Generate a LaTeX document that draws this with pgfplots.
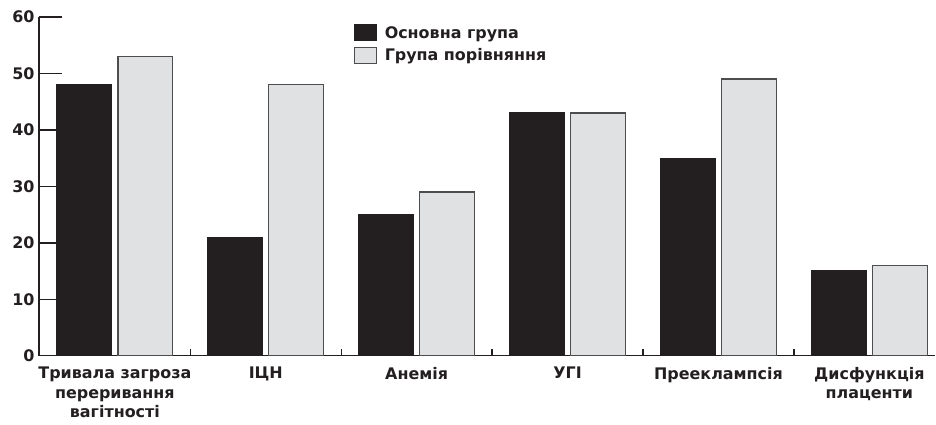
\documentclass[border=0pt]{standalone}
\usepackage{pgfplots}
\pgfplotsset{compat=1.18}
\usepackage{pgfplotstable}
\usepackage{fontspec}
\setmainfont{DejaVu Sans}

\definecolor{barblack}{HTML}{231F20}
\definecolor{bargray}{HTML}{E0E1E3}
\definecolor{edgegray}{HTML}{4D4D4D}

% groups: 0..5
\pgfplotstableread{
x main cmp
0 48 53
1 21 48
2 25 29
3 43 43
4 35 49
5 15 16
}\datatable

\begin{document}
\begin{tikzpicture}
\begin{axis}[
  scale only axis,
  width=897bp, height=339bp,
  xmin=-0.503, xmax=5.437,
  ymin=0, ymax=60,
  ybar=6bp, bar width=55bp,
  axis x line=bottom, axis y line=left,
  axis line style={-, line width=1.4bp, color=barblack},
  tick align=inside,
  major tick length=23bp,
  minor tick length=7bp,
  ytick={0,10,...,60},
  y tick style={line width=1.4bp, color=barblack},
  xtick={0,...,5},
  minor xtick={0.5,1.5,2.5,3.5,4.5},
  major x tick style={draw=none},
  minor x tick style={line width=1.4bp, color=barblack},
  xticklabels={{Тривала загроза\\переривання\\вагітності},ІЦН,Анемія,УГІ,Прееклампсія,{Дисфункція\\плаценти}},
  xticklabel style={align=center, yshift=-8bp, font=\fontsize{16}{19.5}\selectfont\bfseries, text=barblack},
  yticklabel style={font=\fontsize{16}{19.5}\selectfont\bfseries, text=barblack, xshift=-1bp},
  /pgf/number format/assume math mode=true,
  legend image code/.code={\draw[#1, line width=1bp] (0bp,-8bp) rectangle (22bp,8bp);},
  legend style={at={(0.351,0.979)}, anchor=north west, draw=none, fill=none,
    inner sep=0pt, row sep=5bp,
    font=\fontsize{16}{19.5}\selectfont\bfseries, text=barblack,
    /tikz/every odd column/.style={column sep=6bp}},
  legend cell align=left,
  clip=false,
]
\addplot[fill=barblack, draw=barblack, line width=1.2bp] table[x=x, y=main] {\datatable};
\addplot[fill=bargray, draw=edgegray, line width=1.3bp] table[x=x, y=cmp] {\datatable};
\legend{Основна група, Група порівняння}
\end{axis}
\path (current axis.south west) ++(-39bp,-69bp) rectangle ++(936bp,425bp);
\end{tikzpicture}
\end{document}
